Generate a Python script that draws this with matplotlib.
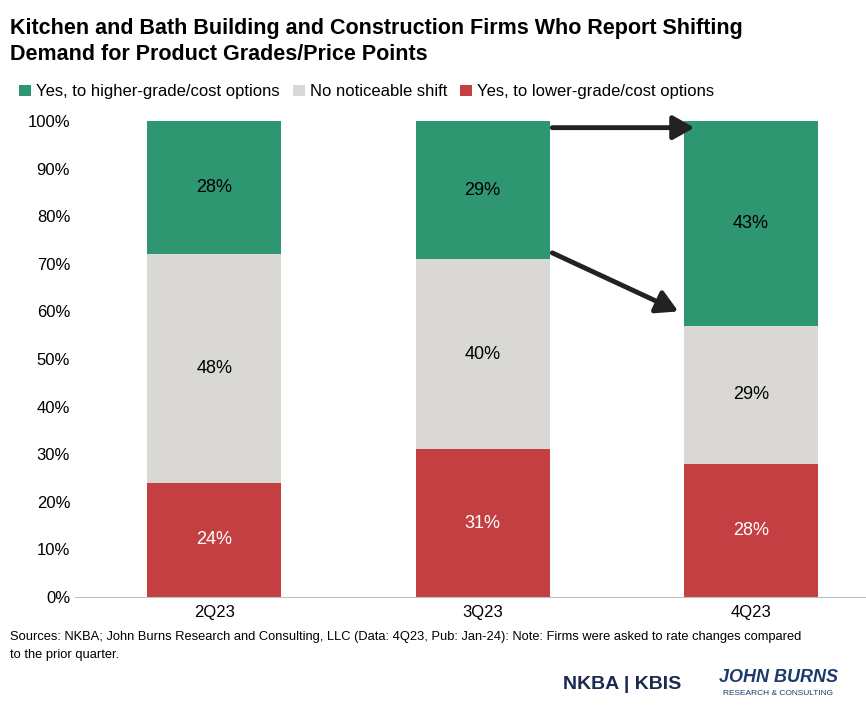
import matplotlib
matplotlib.use("Agg")
import matplotlib.pyplot as plt
import numpy as np

quarters = ["2Q23", "3Q23", "4Q23"]
lower = [24, 31, 28]
noshift = [48, 40, 29]
higher = [28, 29, 43]
labels = ["Yes, to higher-grade/cost options", "No noticeable shift", "Yes, to lower-grade/cost options"]
colors = {"higher": "#2e9670", "no": "#d9d8d4", "lower": "#c43f41"}

plt.rcParams['font.family'] = ['Liberation Sans', 'DejaVu Sans']
fig = plt.figure(figsize=(8.66, 7.06), dpi=100)
ax = fig.add_axes([75/866, 1-597/706, (866-75)/866, (597-121)/706])
x = np.arange(len(quarters))
w = 0.5
b1 = ax.bar(x, lower, w, color=colors["lower"], label=labels[2])
b2 = ax.bar(x, noshift, w, bottom=lower, color=colors["no"], label=labels[1])
bot = np.array(lower) + np.array(noshift)
b3 = ax.bar(x, higher, w, bottom=bot, color=colors["higher"], label=labels[0])
for i in range(3):
    ax.text(x[i], lower[i]/2, f"{lower[i]}%", ha="center", va="center", color="white", fontsize=13)
    ax.text(x[i], lower[i]+noshift[i]/2, f"{noshift[i]}%", ha="center", va="center", color="black", fontsize=13)
    ax.text(x[i], bot[i]+higher[i]/2, f"{higher[i]}%", ha="center", va="center", color="black", fontsize=13)
ax.set_xlim(-0.52, 2.43)
ax.set_ylim(0, 100)
ax.set_yticks(range(0, 101, 10))
ax.set_yticklabels([f"{v}%" for v in range(0, 101, 10)], fontsize=12)
ax.set_xticks(x)
ax.set_xticklabels(quarters, fontsize=12)
for s in ["top", "right", "left"]:
    ax.spines[s].set_visible(False)
ax.spines["bottom"].set_color("#bfbfbf")
ax.tick_params(axis="both", length=0)
ax.tick_params(axis="x", pad=6)

arrowprops = dict(arrowstyle="-|>,head_length=0.8,head_width=0.45", color="#222222", lw=3.5, mutation_scale=16, shrinkA=0, shrinkB=0)
ax.annotate("", xy=(1.79, 98.6), xytext=(1.26, 98.6), arrowprops=arrowprops)
ax.annotate("", xy=(1.73, 60.0), xytext=(1.26, 72.3), arrowprops=arrowprops)

h = [b3, b2, b1]
fig.legend(h, labels, loc="upper left", bbox_to_anchor=(0.005, 0.902), ncol=3, frameon=False,
           fontsize=12, handlelength=0.7, handleheight=0.7, handletextpad=0.3, columnspacing=0.8)
fig.text(0.012, 0.974, "Kitchen and Bath Building and Construction Firms Who Report Shifting\nDemand for Product Grades/Price Points",
         ha="left", va="top", fontsize=15.5, fontweight="bold", linespacing=1.3)
fig.text(0.012, 0.106, "Sources: NKBA; John Burns Research and Consulting, LLC (Data: 4Q23, Pub: Jan-24): Note: Firms were asked to rate changes compared\nto the prior quarter.",
         ha="left", va="top", fontsize=9.3, linespacing=1.7)
fig.text(0.65, 0.03, "NKBA | KBIS", ha="left", va="center", fontsize=14, fontweight="bold", color="#1b2a4e")
fig.text(0.83, 0.04, "JOHN BURNS", ha="left", va="center", fontsize=13, fontweight="bold", color="#1b3a6b", style="italic")
fig.text(0.835, 0.018, "RESEARCH & CONSULTING", ha="left", va="center", fontsize=6, color="#1b3a6b")
fig.savefig("out.png", dpi=100)
